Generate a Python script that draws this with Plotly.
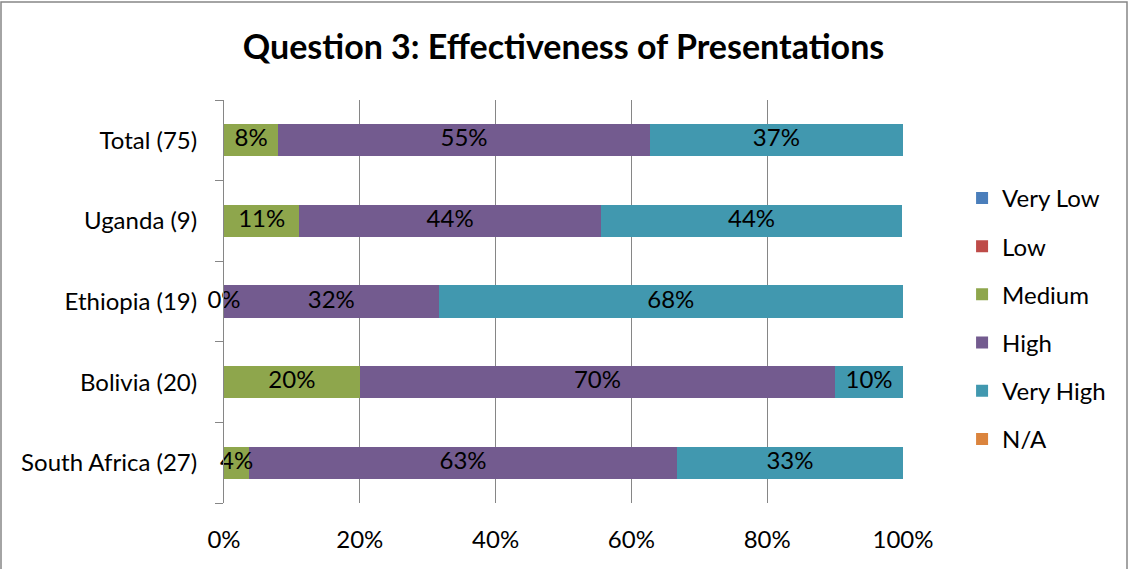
import plotly.graph_objects as go

categories = ["South Africa (27)", "Bolivia (20)", "Ethiopia (19)", "Uganda (9)", "Total (75)"]
series_names = ["Very Low", "Low", "Medium", "High", "Very High", "N/A"]
very_low = [0, 0, 0, 0, 0]
low = [0, 0, 0, 0, 0]
medium = [3.7, 20.0, 0.0, 11.1, 8.0]
high = [63.0, 70.0, 31.6, 44.4, 54.7]
very_high = [33.3, 10.0, 68.4, 44.4, 37.3]
na = [0, 0, 0, 0, 0]
tick_vals = [0, 20, 40, 60, 80, 100]
tick_labels = ["0%", "20%", "40%", "60%", "80%", "100%"]

colors = ["#4A7EBB", "#BE4B48", "#8EA64C", "#735B8F", "#4198AF", "#DB843D"]
labeled = [False, False, True, True, True, False]
values = [very_low, low, medium, high, very_high, na]

FONT = "Lato, Carlito, Calibri, sans-serif"
FS = 24

fig = go.Figure()
cum = [0.0] * len(categories)
label_traces = []
for name, vals, col, lab in zip(series_names, values, colors, labeled):
    fig.add_trace(go.Bar(
        y=categories, x=vals, name=name, orientation="h",
        marker=dict(color=col, line=dict(width=0)),
        legendgroup=name, hoverinfo="x+name",
    ))
    if lab:
        mids = [c + v / 2 for c, v in zip(cum, vals)]
        texts = [f"{round(v)}%" for v in vals]
        label_traces.append(go.Scatter(
            x=mids, y=categories, mode="text", text=texts,
            textfont=dict(family=FONT, size=FS, color="#000000"),
            showlegend=False, hoverinfo="skip", cliponaxis=False,
        ))
    cum = [c + v for c, v in zip(cum, vals)]

for t in label_traces:
    fig.add_trace(t)

L, R, T, B = 224, 225, 100, 66
W, H = 1128, 569
pw = W - L - R
ph = H - T - B

fig.update_layout(
    width=W, height=H,
    barmode="stack", bargap=0.6,
    paper_bgcolor="white", plot_bgcolor="white",
    margin=dict(l=L, r=R, t=T, b=B, pad=0),
    font=dict(family=FONT, size=FS, color="#000000"),
    title=dict(text="<b>Question 3: Effectiveness of Presentations</b>",
               x=0.5, xanchor="center", xref="paper", y=1 - 47 / H, yanchor="middle",
               font=dict(family=FONT, size=34, color="#000000")),
    showlegend=True,
    legend=dict(x=1.087, xanchor="left", y=0.457, yanchor="middle",
                traceorder="grouped", tracegroupgap=14,
                font=dict(family=FONT, size=FS, color="#000000"),
                bgcolor="rgba(0,0,0,0)", itemclick=False),
    xaxis=dict(range=[0, 100], tickvals=tick_vals, ticktext=tick_labels,
               showgrid=True, gridcolor="#868686", gridwidth=1,
               zeroline=False, showline=False, ticks="",
               ticklabelstandoff=20, fixedrange=True,
               tickfont=dict(family=FONT, size=FS, color="#000000")),
    yaxis=dict(categoryorder="array", categoryarray=categories,
               showline=True, linecolor="#868686", linewidth=1,
               ticks="outside", ticklen=8, tickcolor="#868686", tickson="boundaries",
               showgrid=False, ticklabelstandoff=21, fixedrange=True,
               tickfont=dict(family=FONT, size=FS, color="#000000")),
    shapes=[dict(type="rect", xref="paper", yref="paper",
                 x0=(1 - L) / pw, x1=(W - 1 - L) / pw,
                 y0=(H - B - 580) / ph, y1=(H - B - 2) / ph,
                 line=dict(color="#868686", width=1.5), fillcolor="rgba(0,0,0,0)",
                 layer="below")],
)

fig.write_html("out.html")
